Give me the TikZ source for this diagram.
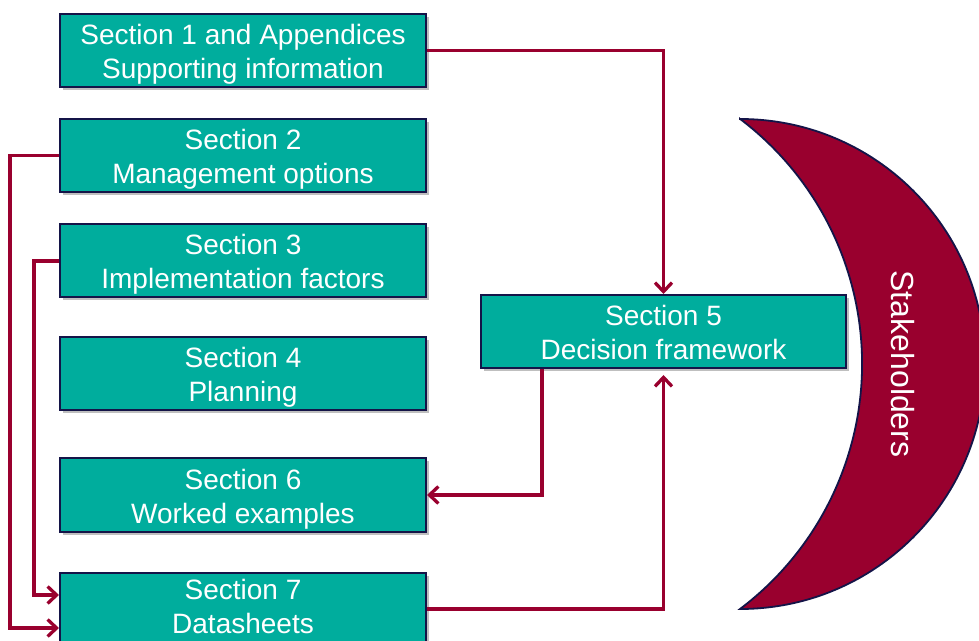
\documentclass[tikz,border=0pt]{standalone}
\usepackage{fontspec}
\setmainfont{Liberation Sans}
\usetikzlibrary{arrows.meta,shadows,calc}
\definecolor{teal1}{RGB}{0,173,157}
\definecolor{crim}{RGB}{153,0,46}
\definecolor{navy}{RGB}{20,20,72}
\tikzset{
  secbox/.style={draw=navy, line width=2pt, fill=teal1, minimum width=366pt, minimum height=73pt,
    inner sep=0pt, align=center, text=white, font=\fontsize{28}{34}\selectfont,
    text height=64.5pt, text depth=8.5pt,
    drop shadow={shadow xshift=3pt, shadow yshift=-3pt, fill=black, opacity=0.25}},
  conn/.style={draw=crim, line width=3.3pt},
  arr/.style={conn, -{Straight Barb[length=9pt,width=17pt]}},
}
\begin{document}
\begin{tikzpicture}[x=1pt,y=1pt]
\useasboundingbox (0,0) rectangle (979,640);
\clip (0,0) rectangle (979,640);
% crescent
\path[fill=crim, draw=navy, line width=1.8pt]
  (740,521) arc[start angle=90, end angle=-90, radius=245]
  arc[start angle=-52.96, end angle=52.96, radius=307] -- cycle;
\node[text=white, rotate=-90, font=\fontsize{32}{38}\selectfont] (stake) at (903,276) {Stakeholders};
% boxes
\node[secbox] (b1) at (243,589.5) {Section 1 and Appendices\\Supporting information};
\node[secbox] (b2) at (243,484.5) {Section 2\\Management options};
\node[secbox] (b3) at (243,379) {Section 3\\Implementation factors};
\node[secbox] (b4) at (243,266) {Section 4\\Planning};
\node[secbox] (b6) at (243,145) {Section 6\\Worked examples};
\node[secbox, text height=61pt, text depth=12pt] (b7) at (243,31) {Section 7\\Datasheets};
\node[secbox, minimum width=365pt] (b5) at (663.5,308.5) {Section 5\\Decision framework};
% connectors
\draw[arr] (b1.east) -| (b5.north);
\draw[arr, shorten >=6pt] (b7.east) -| (b5.south);
\draw[arr] ($(b5.south west)+(62,0)$) |- (b6.east);
\draw[arr] (b2.west) -- ++(-49,0) |- ($(b7.west)+(0,-19)$);
\draw[arr] (b3.west) -- ++(-25,0) |- ($(b7.west)+(0,14)$);
\end{tikzpicture}
\end{document}
